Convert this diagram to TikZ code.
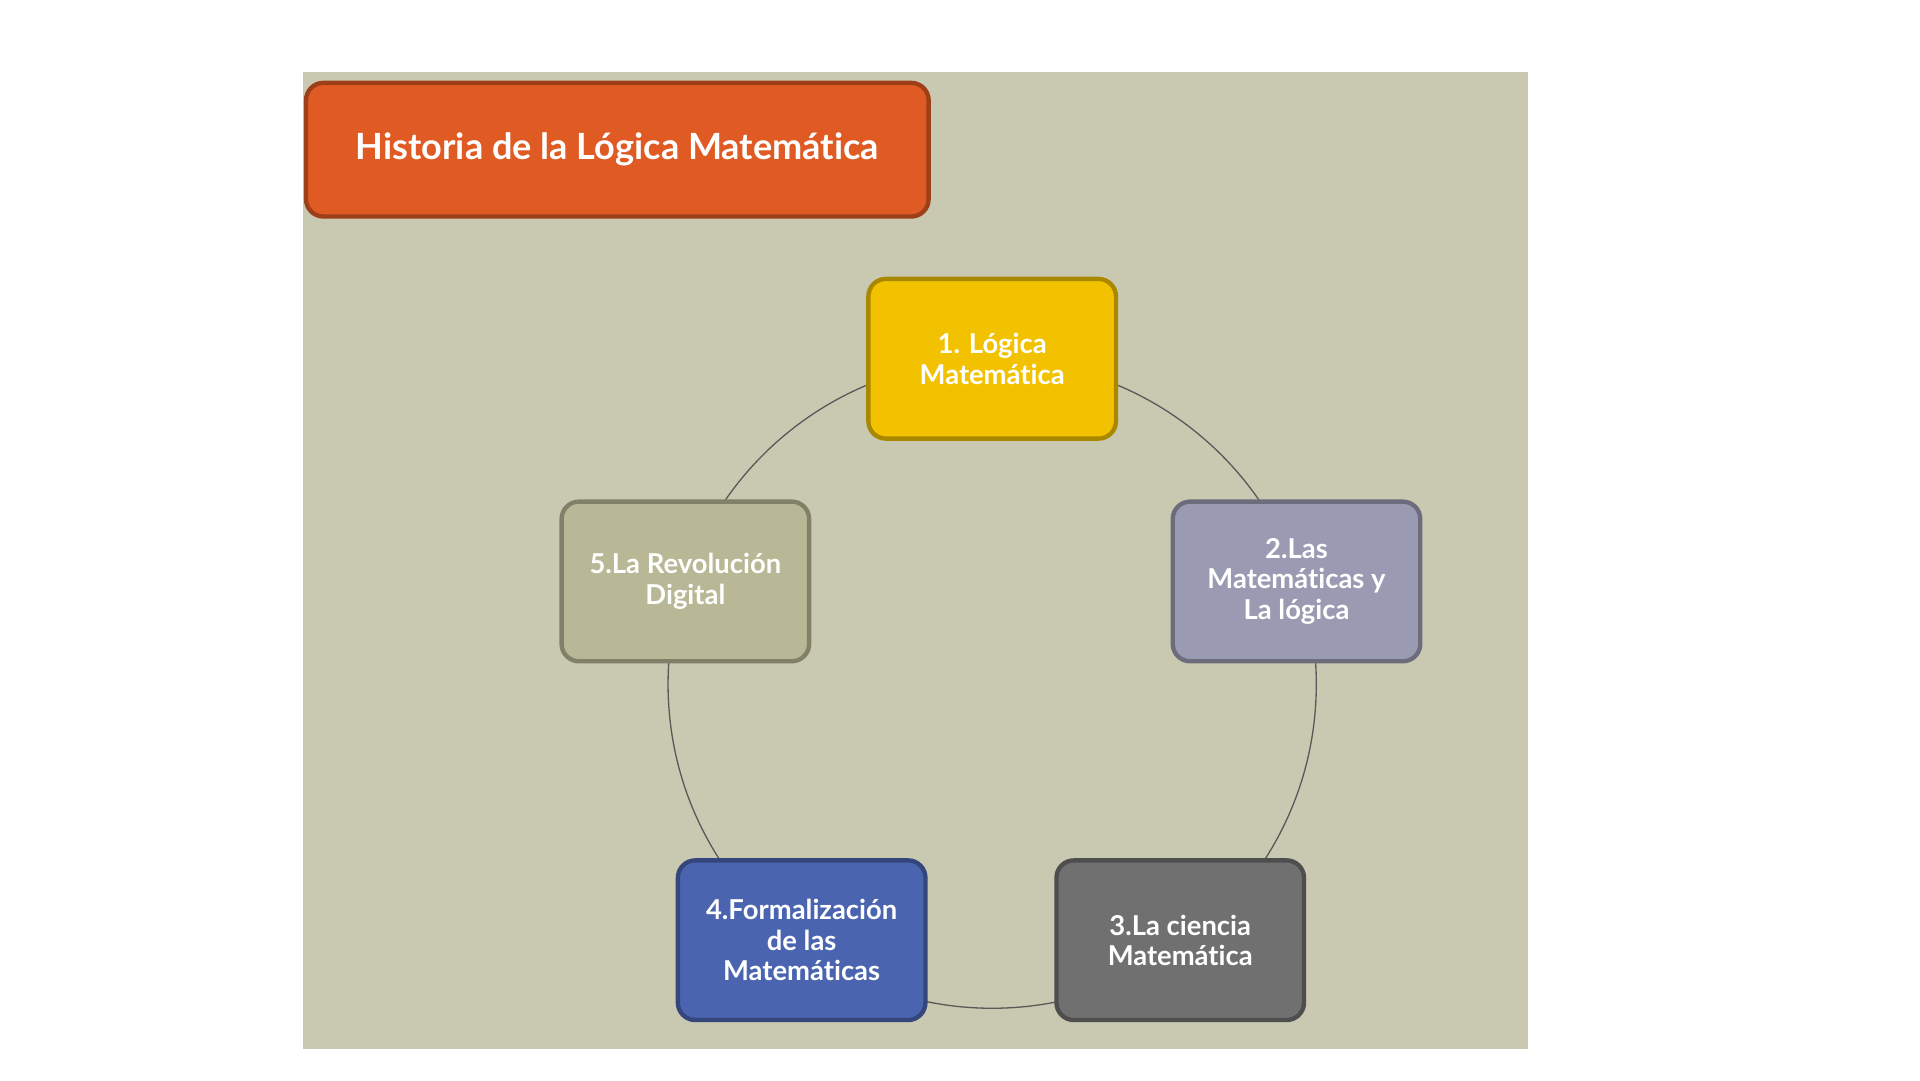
\documentclass[tikz,border=0pt]{standalone}
\usepackage{fontspec}
\setmainfont{Lato}[Ligatures=NoCommon]
\begin{document}
\begin{tikzpicture}[x=0.01cm,y=-0.01cm,
  box/.style={draw=#1!70!black, line width=1pt, rounded corners=4pt, fill=#1, text=white,
    minimum width=2cm, minimum height=1.29cm, align=center, font=\bfseries\fontsize{6.3}{7}\selectfont, inner sep=1pt}]
\definecolor{panel}{HTML}{C9C9B1}
\definecolor{ttl}{HTML}{E05A24}
\definecolor{cA}{HTML}{F2C200}
\definecolor{cB}{HTML}{9A9AB2}
\definecolor{cC}{HTML}{707070}
\definecolor{cD}{HTML}{4A64B0}
\definecolor{cE}{HTML}{B8B896}
\useasboundingbox (0,0) rectangle (1552,873);
\fill[white] (0,0) rectangle (1552,873);
\fill[panel] (245,58) rectangle (1235,848);
\node[draw=ttl!70!black, line width=1pt, fill=ttl, rounded corners=4pt, minimum width=5.03cm, minimum height=1.08cm, text=white, font=\bfseries\fontsize{8.3}{9}\selectfont] (title) at (499,121) {Historia de la Lógica Matemática};
\draw[gray!70!black, line width=0.3pt] (802,553) circle[radius=262];
\node[box=cA] (n1) at (802,290) {1. Lógica\\Matemática};
\node[box=cB] (n2) at (1048,470) {2.Las\\Matemáticas y\\La lógica};
\node[box=cC] (n3) at (954,760) {3.La ciencia\\Matemática};
\node[box=cD] (n4) at (648,760) {4.Formalización\\de las\\Matemáticas};
\node[box=cE] (n5) at (554,470) {5.La Revolución\\Digital};
\end{tikzpicture}
\end{document}
